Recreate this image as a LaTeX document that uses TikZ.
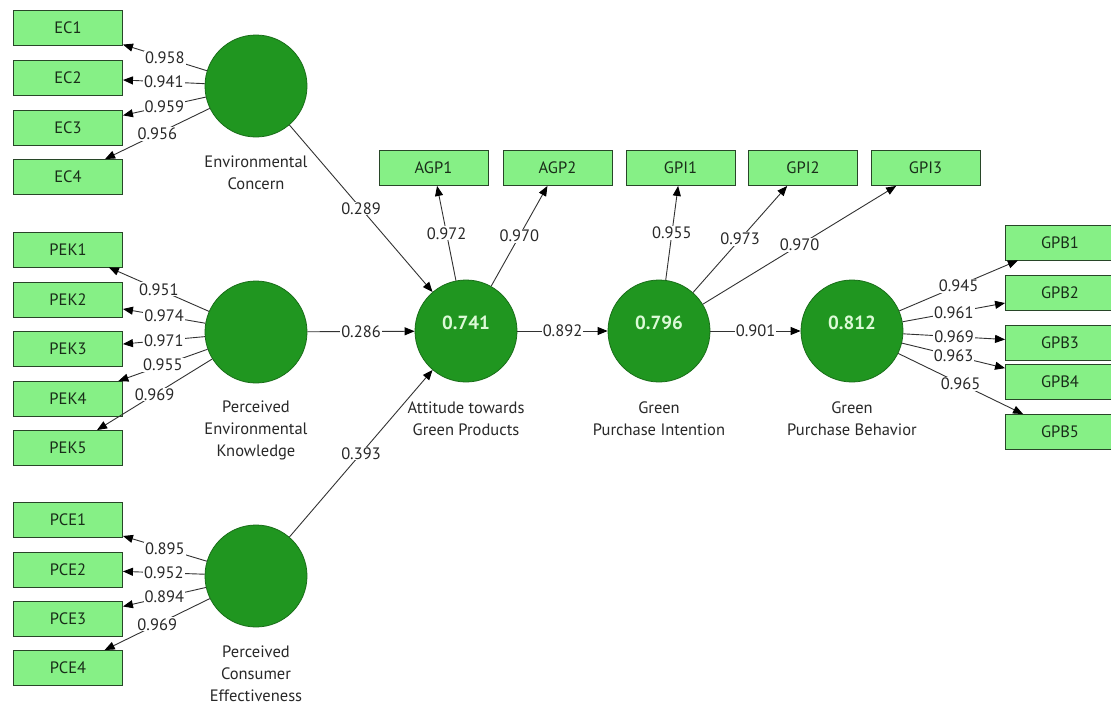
\documentclass[tikz,border=0pt]{standalone}
\usepackage{fontspec}
\setmainfont{PT Sans}
\usetikzlibrary{arrows.meta}
\definecolor{boxfill}{RGB}{134,240,134}
\definecolor{boxline}{RGB}{40,70,40}
\definecolor{boxtext}{RGB}{25,45,25}
\definecolor{circfill}{RGB}{32,150,32}
\definecolor{circline}{RGB}{25,110,25}
\definecolor{linecol}{RGB}{50,50,50}
\definecolor{captext}{RGB}{40,40,40}
\definecolor{r2col}{RGB}{220,250,215}
\begin{document}
\begin{tikzpicture}[x=1pt,y=-1pt,
 ind/.style={draw=boxline, fill=boxfill, line width=0.9pt, minimum width=109pt, minimum height=35pt, inner sep=0pt, font=\fontsize{16.5}{18}\selectfont, text=boxtext},
 lv/.style={circle, draw=circline, fill=circfill, line width=0.8pt, minimum size=102pt, inner sep=0pt},
 lvcap/.style={align=center, font=\fontsize{16.5}{22}\selectfont, text=captext},
 pth/.style={draw=linecol, line width=0.9pt, -{Triangle[length=10pt,width=8pt,color=black]}},
 coef/.style={midway, fill=white, inner sep=1pt, font=\fontsize{16.5}{18}\selectfont, text=captext},
 r2/.style={text=r2col, font=\bfseries\fontsize{19}{20}\selectfont}
]
\useasboundingbox (0,0) rectangle (1111,704);
\fill[white] (0,0) rectangle (1111,704);

% indicator boxes
\node[ind] (EC1) at (68,27.5) {EC1};
\node[ind] (EC2) at (68,77.5) {EC2};
\node[ind] (EC3) at (68,127.5) {EC3};
\node[ind] (EC4) at (68,177) {EC4};
\node[ind] (PEK1) at (68,249.5) {PEK1};
\node[ind] (PEK2) at (68,299.5) {PEK2};
\node[ind] (PEK3) at (68,349) {PEK3};
\node[ind] (PEK4) at (68,399) {PEK4};
\node[ind] (PEK5) at (68,448) {PEK5};
\node[ind] (PCE1) at (68,519.5) {PCE1};
\node[ind] (PCE2) at (68,569.5) {PCE2};
\node[ind] (PCE3) at (68,619) {PCE3};
\node[ind] (PCE4) at (68,668) {PCE4};
\node[ind] (AGP1) at (433.5,168) {AGP1};
\node[ind] (AGP2) at (557.5,168) {AGP2};
\node[ind] (GPI1) at (680.5,168) {GPI1};
\node[ind] (GPI2) at (803,168) {GPI2};
\node[ind] (GPI3) at (925.5,168) {GPI3};
\node[ind] (GPB1) at (1060,242.5) {GPB1};
\node[ind] (GPB2) at (1060,293) {GPB2};
\node[ind] (GPB3) at (1060,342.5) {GPB3};
\node[ind] (GPB4) at (1060,381.5) {GPB4};
\node[ind] (GPB5) at (1060,432) {GPB5};

% latent variables
\node[lv] (EC) at (256,86) {};
\node[lv] (PEK) at (256,332) {};
\node[lv] (PCE) at (256,576) {};
\node[lv] (ATG) at (466,331) {};
\node[lv] (GPI) at (659,331) {};
\node[lv] (GPB) at (852,331) {};

\node[r2] (r2ATG) at (466,323) {0.741};
\node[r2] (r2GPI) at (659,323) {0.796};
\node[r2] (r2GPB) at (852,323) {0.812};

% captions
\node[lvcap] (cEC) at (256,173) {Environmental\\Concern};
\node[lvcap] (cPEK) at (256,430) {Perceived\\Environmental\\Knowledge};
\node[lvcap] (cPCE) at (256,674) {Perceived\\Consumer\\Effectiveness};
\node[lvcap] (cATG) at (466,419) {Attitude towards\\Green Products};
\node[lvcap] (cGPI) at (659,419) {Green\\Purchase Intention};
\node[lvcap] (cGPB) at (852,419) {Green\\Purchase Behavior};

% outer loadings
\draw[pth] (EC) -- node[coef]{0.958} (EC1);
\draw[pth] (EC) -- node[coef]{0.941} (EC2);
\draw[pth] (EC) -- node[coef]{0.959} (EC3);
\draw[pth] (EC) -- node[coef]{0.956} (EC4);
\draw[pth] (PEK) -- node[coef]{0.951} (PEK1);
\draw[pth] (PEK) -- node[coef]{0.974} (PEK2);
\draw[pth] (PEK) -- node[coef]{0.971} (PEK3);
\draw[pth] (PEK) -- node[coef]{0.955} (PEK4);
\draw[pth] (PEK) -- node[coef]{0.969} (PEK5);
\draw[pth] (PCE) -- node[coef]{0.895} (PCE1);
\draw[pth] (PCE) -- node[coef]{0.952} (PCE2);
\draw[pth] (PCE) -- node[coef]{0.894} (PCE3);
\draw[pth] (PCE) -- node[coef]{0.969} (PCE4);
\draw[pth] (ATG) -- node[coef]{0.972} (AGP1);
\draw[pth] (ATG) -- node[coef]{0.970} (AGP2);
\draw[pth] (GPI) -- node[coef]{0.955} (GPI1);
\draw[pth] (GPI) -- node[coef]{0.973} (GPI2);
\draw[pth] (GPI) -- node[coef]{0.970} (GPI3);
\draw[pth] (GPB) -- node[coef]{0.945} (GPB1);
\draw[pth] (GPB) -- node[coef]{0.961} (GPB2);
\draw[pth] (GPB) -- node[coef]{0.969} (GPB3);
\draw[pth] (GPB) -- node[coef]{0.963} (GPB4);
\draw[pth] (GPB) -- node[coef]{0.965} (GPB5);

% structural paths
\draw[pth] (EC) -- node[coef]{0.289} (ATG);
\draw[pth] (PEK) -- node[coef]{0.286} (ATG);
\draw[pth] (PCE) -- node[coef]{0.393} (ATG);
\draw[pth] (ATG) -- node[coef]{0.892} (GPI);
\draw[pth] (GPI) -- node[coef]{0.901} (GPB);
\end{tikzpicture}
\end{document}
